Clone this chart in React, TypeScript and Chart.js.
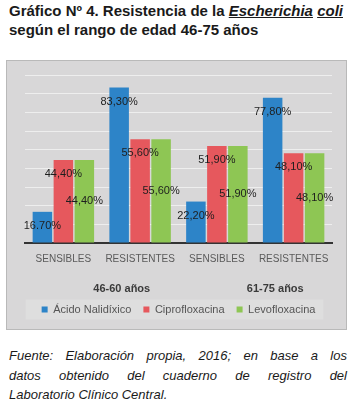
import React, { useEffect, useRef } from "react";
import { Chart, registerables } from "chart.js";

Chart.register(...registerables);

const categories = ["SENSIBLES", "RESISTENTES", "SENSIBLES", "RESISTENTES"];
const ageGroups = ["46-60 años", "61-75 años"];
const seriesNames = ["Ácido Nalidíxico", "Ciprofloxacina", "Levofloxacina"];
const acidoValues = [16.7, 83.3, 22.2, 77.8];
const ciproValues = [44.4, 55.6, 51.9, 48.1];
const levoValues = [44.4, 55.6, 51.9, 48.1];
const acidoLabels = ["16.70%", "83,30%", "22,20%", "77,80%"];
const ciproLabels = ["44,40%", "55,60%", "51,90%", "48,10%"];
const levoLabels = ["44,40%", "55,60%", "51,90%", "48,10%"];
const yMin = 0;
const yMax = 90;
const yStep = 10;

const FONT = "'Liberation Sans', Arial, Helvetica, sans-serif";
const LEGEND_PAD = 12;
const LEGEND_FONT = 11;

const legendBg = {
  id: "legendBg",
  beforeDraw(chart: any) {
    const lg = chart.legend;
    if (!lg || !lg.legendHitBoxes) return;
    const boxes = lg.legendHitBoxes;
    const total =
      boxes.reduce((s: number, b: any) => s + b.width, 0) + LEGEND_PAD * (boxes.length - 1);
    const cx = (lg.left + lg.right) / 2;
    const cy = lg.top + LEGEND_PAD + LEGEND_FONT / 2;
    const ctx = chart.ctx;
    ctx.save();
    ctx.fillStyle = "#dedede";
    ctx.fillRect(cx - total / 2 - 16, cy - 10, total + 24, 20);
    ctx.restore();
  },
};

const barLabels = {
  id: "barLabels",
  afterDatasetsDraw(chart: any) {
    const ctx = chart.ctx;
    ctx.save();
    ctx.font = `11px ${FONT}`;
    ctx.fillStyle = "#1e1e1e";
    ctx.textAlign = "center";
    ctx.textBaseline = "middle";
    chart.data.datasets.forEach((ds: any, di: number) => {
      const meta = chart.getDatasetMeta(di);
      meta.data.forEach((bar: any, i: number) => {
        const { x, y, base } = bar.getProps(["x", "y", "base"], true);
        const ty = ds.labelPos === "center" ? (y + base) / 2 : y + 14;
        ctx.fillText(ds.valueLabels[i], x, ty);
      });
    });
    ctx.restore();
  },
};

function BarChart() {
  const ref = useRef<HTMLCanvasElement>(null);
  useEffect(() => {
    const chart = new Chart(ref.current!, {
      type: "bar",
      data: {
        labels: categories,
        datasets: [
          {
            label: seriesNames[0],
            data: acidoValues,
            backgroundColor: "#2d84c8",
            borderWidth: 0,
            valueLabels: acidoLabels,
            labelPos: "top",
          } as any,
          {
            label: seriesNames[1],
            data: ciproValues,
            backgroundColor: "#e6585d",
            borderWidth: 0,
            valueLabels: ciproLabels,
            labelPos: "top",
          } as any,
          {
            label: seriesNames[2],
            data: levoValues,
            backgroundColor: "#8ec654",
            borderWidth: 0,
            valueLabels: levoLabels,
            labelPos: "center",
          } as any,
        ],
      },
      options: {
        responsive: false,
        animation: false,
        devicePixelRatio: 1,
        layout: { padding: { left: 19, right: 15, top: 15, bottom: 11 } },
        datasets: { bar: { categoryPercentage: 0.82, barPercentage: 0.93 } },
        scales: {
          x: {
            weight: 0,
            offset: true,
            grid: { display: false, drawTicks: false },
            border: { display: true, color: "#333333", width: 2 },
            ticks: { font: { family: FONT, size: 10 }, color: "#5a5a5a", padding: 10 },
            afterFit: (s: any) => {
              s.height = 22;
            },
          },
          x2: {
            type: "category",
            labels: ageGroups,
            position: "bottom",
            weight: 1,
            offset: true,
            grid: { display: false, drawTicks: false },
            border: { display: false },
            ticks: {
              font: { family: FONT, size: 11, weight: "bold" },
              color: "#3a3a3a",
              padding: 17.4,
              labelOffset: 20,
            },
            afterFit: (s: any) => {
              s.height = 27;
            },
          },
          y: {
            min: yMin,
            max: yMax,
            ticks: { display: false, stepSize: yStep },
            grid: { color: "#eeeeee", drawTicks: false },
            border: { display: false },
          },
        },
        plugins: {
          legend: {
            position: "bottom",
            labels: {
              boxWidth: 6,
              boxHeight: 6,
              padding: LEGEND_PAD,
              font: { family: FONT, size: LEGEND_FONT },
              color: "#555555",
            },
          },
          tooltip: { enabled: false },
        },
      } as any,
      plugins: [legendBg, barLabels],
    });
    return () => chart.destroy();
  }, []);
  return (
    <canvas
      ref={ref}
      width={341}
      height={276}
      style={{ position: "absolute", left: 6, top: 60, width: 341, height: 276 }}
    />
  );
}

const justifiedLine: React.CSSProperties = {
  textAlign: "justify",
  textAlignLast: "justify",
  whiteSpace: "nowrap",
};

export default function App() {
  return (
    <div
      style={{
        position: "fixed",
        left: 0,
        top: 0,
        width: 353,
        height: 412,
        background: "#ffffff",
        overflow: "hidden",
      }}
    >
      <div
        style={{
          position: "absolute",
          left: 9,
          top: 1,
          width: 345,
          font: `bold 15px ${FONT}`,
          lineHeight: "19px",
          color: "#1a1a1a",
          whiteSpace: "nowrap",
        }}
      >
        Gráfico Nº 4. Resistencia de la <u><i>Escherichia</i></u> <u><i>coli</i></u>
        <br />
        según el rango de edad 46-75 años
      </div>
      <div
        style={{
          position: "absolute",
          left: 6,
          top: 60,
          width: 341,
          height: 270,
          boxSizing: "border-box",
          background: "#d8d7d8",
          border: "1px solid #b9b9b9",
        }}
      />
      <BarChart />
      <div
        style={{
          position: "absolute",
          left: 9,
          top: 346,
          width: 338,
          font: `italic 13px ${FONT}`,
          lineHeight: "19.5px",
          color: "#1a1a1a",
        }}
      >
        <div style={justifiedLine}>Fuente: Elaboración propia, 2016; en base a los</div>
        <div style={justifiedLine}>datos obtenido del cuaderno de registro del</div>
        <div>Laboratorio Clínico Central.</div>
      </div>
    </div>
  );
}
